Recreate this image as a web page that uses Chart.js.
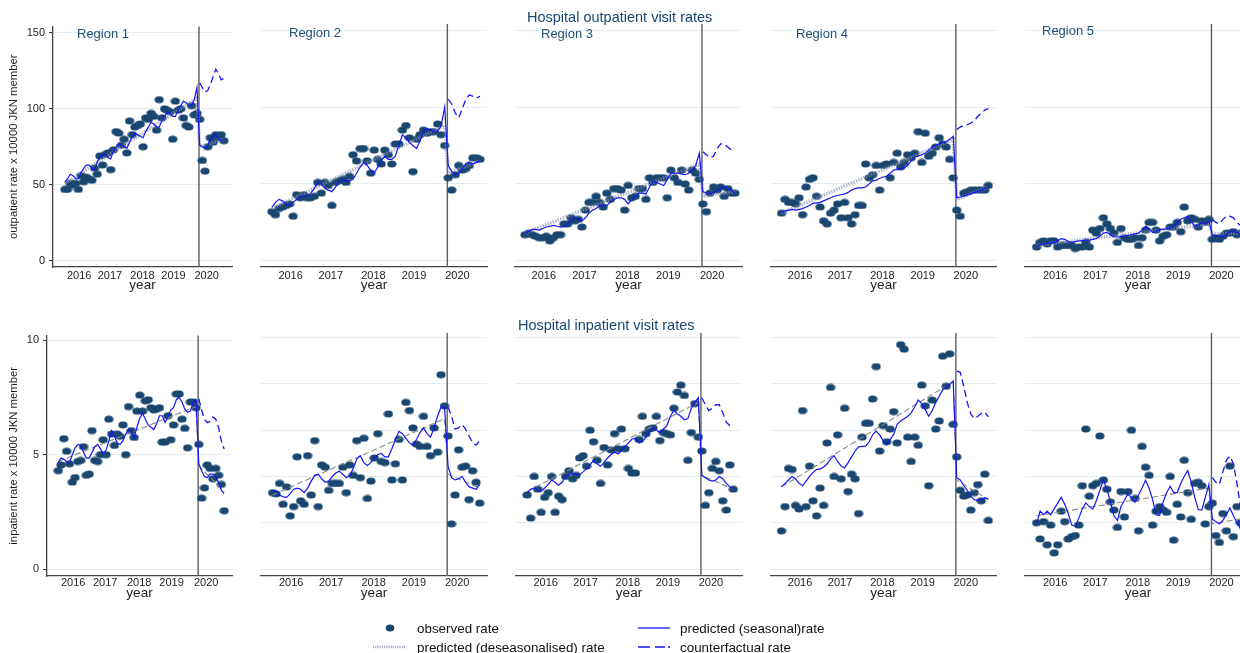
<!DOCTYPE html>
<html lang="en">
<head>
<meta charset="utf-8">
<title>Hospital outpatient and inpatient visit rates</title>
<script src="https://cdn.jsdelivr.net/npm/chart.js@4.4.1/dist/chart.umd.min.js"></script>
<style>
  html, body { margin: 0; padding: 0; background: #fff; }
  body { width: 1240px; height: 653px; position: relative; overflow: hidden; }
  canvas { position: absolute; }
  #overlay { position: absolute; left: 0; top: 0; pointer-events: none; }
</style>
</head>
<body>
<div id="charts"></div>
<svg id="overlay" width="1240" height="653" xmlns="http://www.w3.org/2000/svg">
  <g font-family="'Liberation Sans', Arial, sans-serif" dominant-baseline="central">
    <text x="527" y="17" font-size="14.5" fill="#1a476f">Hospital outpatient visit rates</text>
    <text x="518" y="325" font-size="14.5" fill="#1a476f">Hospital inpatient visit rates</text>
    <g id="regionLabels" font-size="13" fill="#1f4e79"></g>

    <!-- legend -->
    <ellipse cx="390" cy="628" rx="4.3" ry="3.5" fill="#1a476f"/>
    <text x="417" y="628" font-size="13.4" fill="#111">observed rate</text>
    <line x1="373" y1="647" x2="405" y2="647" stroke="#a3aec6" stroke-width="2.5" stroke-dasharray="1.2 1"/>
    <text x="417" y="647" font-size="13.4" fill="#111">predicted (deseasonalised) rate</text>
    <line x1="638" y1="628" x2="670" y2="628" stroke="#1515f5" stroke-width="1.3"/>
    <text x="680" y="628" font-size="13.4" fill="#111">predicted (seasonal)rate</text>
    <line x1="638" y1="647" x2="670" y2="647" stroke="#1515f5" stroke-width="1.3" stroke-dasharray="12 5 10 3 2 100"/>
    <text x="680" y="647" font-size="13.4" fill="#111">counterfactual rate</text>
  </g>
</svg>
<script>
// months are indexed 0..59 (Jan 2016 .. Dec 2020), post period starts at index 50
const years = ['2016', '2017', '2018', '2019', '2020'];
const yearTicks = [5.3, 16.7, 28.8, 40.3, 52.6];
const regions = ['Region 1', 'Region 2', 'Region 3', 'Region 4', 'Region 5'];
const breakX = 49.75;
const postStart = 50;
const deseasonX = [0, 49, 50, 59];

// ---- outpatient (top row) ----
const outObs1 = [47,47,51,50,51,47,56,52,55,54, 53,61,57,69,63,70,71,60,73,85, 84,76,80,71,92,83,88,89,90,75, 94,93,97,95,86,106,94,100,99,98, 80,105,99,100,94,89,88,102,96,97, 93,66,59,75,81,78,83,81,83,79];
const outSea1 = [52,54,57,56,54,54, 58,61,63,63,61,60, 65,68,70,70,68,67, 72,75,77,76,75,74, 78,82,84,83,82,81, 85,88,91,90,88,88, 92,95,98,97,95,95, 99,102,105,104,102,102, 106,114, 76,75,74,76,80,82,83,80,79,80];
const outDes1 = [51, 107, 75, 80];
const outCf1 = [117,114,111,112,116,121,126,123,119,120];

const outObs2 = [32,30,34,35,36,37,29,43,41,43, 41,41,42,51,44,51,49,36,51,52, 53,51,55,69,65,73,73,65,57,72, 66,63,72,69,63,76,76,85,88,80, 58,79,82,85,83,84,84,89,82,75, 54,46,56,62,59,60,62,67,67,66];
const outSea2 = [35,38,40,39,37,36,38,40,42,42, 42,44,47,51,50,47,46,45,48,51, 53,52,52,53,57,61,64,62,59,57, 61,65,68,66,66,68,75,82,80,77, 75,73,78,84,86,85,84,84,88,100, 62,58,56,57,60,63,64,63,64,65];
const outDes2 = [34, 88, 57, 65];
const outCf2 = [105,102,96,93,99,105,108,107,106,107];

const outObs3 = [17,18,17,16,15,15,16,13,15,17, 17,24,24,28,26,27,22,33,38,38, 42,38,35,44,40,47,47,46,33,49, 41,42,47,47,40,54,51,54,54,54, 41,59,54,51,59,50,46,59,57,53, 37,32,44,48,46,48,42,47,44,44];
const outSea3 = [18,19,20.5,20.5,20,21,22,22.5,23,22.5, 22,22.5,24,26,28,27,26,28,31,33, 34,36,36,36,38,40,41,41,40,37, 40,42,44,44,43.5,48,51.5,51,50,49, 53,57,57,57,56.5,56,57,59,62,70, 45,44,43.5,44.5,46,47,48,47,46,44];
const outDes3 = [18, 63, 42, 45];
const outCf3 = [71,69,67,68,73,76,76,74,72,72];

const outObs4 = [31,40,38,38,37,41,30,48,53,54, 42,35,26,24,31,33,37,28,38,28, 24,30,36,36,63,54,56,62,46,62, 63,54,64,70,61,64,69,67,70,84, 64,83,68,70,74,80,76,74,66,54, 33,29,44,45,46,46,46,46,46,49];
const outSea4 = [31.5,32.5,33,33.5,33,33.5,34,35,36,37.5, 37.5,38,39,40,41,42,42.5,43,43.5,44.5, 46,47,47.5,47.5,48,50,52,52.5,53.5,54.5, 55,57,59,59.5,60,60.5,62,65,67.5,68, 69,70,72,74,75,76,77,77.5,79,81, 41,41.5,42,43,43.5,44.5,45,46,47,48];
const outDes4 = [31, 79, 40, 48];
const outCf4 = [85.5,87,88,88.5,89.5,91,94,96,98,99];

const outObs5 = [9,12,13,11,13,13,9,10,10,10, 10,8,9,9,12,9,20,18,21,28, 24,21,18,12,21,15,14,14,15,10, 15,20,25,25,20,13,16,17,22,22, 25,19,35,26,28,27,22,26,25,27, 14,15,14,16,18,18,19,17,18,17];
const outSea5 = [9.5,10.5,11,11.5,11.5,12,13,14.5,14,12.5, 12,12.5,13,13,13.5,13.5,14,14.5,16,18, 18.5,17,15.5,15.5,15.8,16,16.5,17,17.5,18, 20,22.5,21,18.5,19,20.5,20.5,21,21,22.5, 25,27,28,29,26,22.5,23,25,24,26, 17,16.5,16,15.8,17,19,19,18.5,17,16.5];
const outDes5 = [10, 24, 17.5, 18];
const outCf5 = [27,25,24,27,29,29,28,25,23,22];

// ---- inpatient (bottom row) ----
const inpObs1 = [4.3,4.55,5.7,5.15,4.6,3.8,4.0,4.7,4.75,5.35, 4.1,4.15,6.05,4.75,4.7,5.0,5.65,5.0,6.55,5.9, 5.4,5.9,5.8,6.3,5.0,7.1,6.05,5.75,6.9,7.6, 6.9,7.35,7.4,7.05,6.95,7.0,7.05,5.55,5.55,6.7, 5.65,6.3,7.65,7.65,6.55,6.15,5.3,7.3,7.3,7.05, 5.45,3.1,3.55,4.55,4.4,3.95,4.4,4.1,3.7,2.55];
const inpSea1 = [4.65,4.85,4.8,4.7,4.65,5.0,5.3,5.45,5.4,5.1, 4.85,4.85,5.1,5.35,5.45,5.25,5.05,5.2,5.6,6.05, 5.8,5.5,5.45,5.6,5.9,6.1,5.95,5.75,6.2,6.6, 6.8,6.55,6.3,6.2,6.1,6.35,6.7,6.7,6.4,6.65, 6.95,7.05,7.4,7.5,7.3,7.0,6.85,6.9,7.3,7.4, 4.6,4.3,4.05,4.0,4.15,4.15,4.05,3.8,3.45,3.3];
const inpDes1 = [4.7, 7.1, 4.5, 3.4];
const inpCf1 = [7.45,6.95,6.55,6.4,6.45,6.65,6.55,6.2,5.6,5.25];

const inpObs2 = [3.3,3.25,3.7,2.8,3.55,2.3,2.7,4.85,2.95,2.8, 4.9,3.2,5.55,2.7,4.5,4.4,3.4,3.7,3.7,3.7, 4.4,3.3,4.5,4.05,5.55,3.95,5.65,3.05,3.8,4.8, 5.85,4.65,4.6,6.7,3.85,4.55,5.6,3.85,7.2,6.85, 6.1,5.4,5.3,6.6,5.3,4.9,6.1,5.05,8.4,7.05, 5.75,1.95,3.2,5.15,4.4,4.45,3.0,4.25,3.75,2.85];
const inpSea2 = [3.4,3.35,3.2,3.12,3.1,3.25,3.45,3.5,3.45,3.3, 3.5,3.8,4.05,4.1,3.9,3.75,3.8,4.0,4.15,4.23, 4.1,3.95,4.05,4.35,4.75,4.9,4.6,4.48,4.6,4.8, 4.95,5.0,4.85,4.85,5.2,5.6,5.95,5.85,5.65,5.45, 5.35,5.6,5.9,6.1,5.85,5.7,6.1,6.6,7.0,7.0, 4.45,3.95,3.85,3.9,4.0,3.75,3.55,3.5,3.45,3.65];
const inpDes2 = [3.2, 6.5, 4.1, 3.5];
const inpCf2 = [7.0,6.6,6.05,6.1,6.25,6.05,5.75,5.45,5.35,5.55];

const inpObs3 = [3.2,2.2,4.0,3.45,2.45,3.1,3.3,4.0,2.45,3.15, 3.0,4.0,4.25,3.9,4.05,4.8,4.9,4.45,6.0,5.5, 4.7,3.7,5.25,4.5,5.15,5.85,5.2,6.05,5.2,4.35, 4.15,4.15,5.6,6.6,5.85,6.05,6.1,6.6,5.55,5.9, 5.85,5.8,6.95,7.65,7.95,7.5,4.7,5.9,7.15,5.7, 5.1,2.75,3.3,4.35,4.65,4.25,2.95,2.55,4.5,3.45];
const inpSea3 = [3.3,3.45,3.5,3.43,3.36,3.5,3.65,3.85,3.75,3.62, 3.75,4.0,4.08,4.13,4.1,4.08,4.2,4.33,4.5,4.7, 4.55,4.44,4.6,4.8,4.95,5.05,4.98,5.1,5.3,5.45, 5.62,5.65,5.45,5.5,5.7,5.95,6.1,6.0,5.9,6.05, 6.2,6.6,6.85,6.7,6.6,6.45,6.5,6.95,7.2,7.4, 4.05,3.95,3.85,3.8,3.85,4.0,3.9,3.7,3.55,3.45];
const inpDes3 = [3.35, 7.2, 4.05, 3.45];
const inpCf3 = [7.4,7.1,6.85,6.95,7.1,7.1,6.75,6.35,6.2,6.15];

const inpObs4 = [1.65,2.7,4.35,4.3,2.75,2.6,6.85,2.7,4.45,2.95, 2.3,3.5,2.75,5.45,7.85,4.0,5.8,3.9,6.95,3.35, 4.1,3.9,2.4,5.7,6.3,6.3,7.35,8.75,5.1,6.2, 5.5,6.05,6.8,5.45,9.7,9.5,5.7,4.65,5.7,5.35, 7.95,7.05,3.6,7.3,6.05,6.4,9.2,7.9,9.3,6.25, 4.85,3.4,3.15,3.2,2.55,3.3,3.65,2.95,4.1,2.1];
const inpSea4 = [3.55,3.7,3.85,4.0,3.9,3.7,3.6,3.8,4.0,4.18, 4.3,4.33,4.4,4.55,4.75,4.9,4.65,4.45,4.37,4.6, 4.85,5.1,5.28,5.3,5.31,5.5,5.8,5.96,5.8,5.55, 5.38,5.6,5.82,6.25,6.4,6.5,6.6,6.75,7.0,7.3, 7.15,6.9,6.6,6.85,7.2,7.47,7.75,7.9,7.98,8.12, 3.95,3.85,3.6,3.4,3.15,3.0,2.97,3.0,3.07,3.03];
const inpDes4 = [3.55, 8.1, 3.85, 3.0];
const inpCf4 = [8.55,8.5,7.9,7.2,6.7,6.5,6.6,6.72,6.78,6.58];

const inpObs5 = [2.0,1.3,2.05,1.05,1.9,0.7,1.05,2.5,2.05,1.3, 1.4,1.45,1.9,3.6,6.05,3.15,3.6,3.7,5.75,3.85, 3.45,2.9,2.55,1.8,3.35,2.25,3.35,6.0,3.05,1.65, 5.3,4.4,4.05,1.9,2.5,2.7,2.55,2.45,4.0,1.25, 2.8,2.25,4.7,3.3,2.15,3.7,3.75,3.6,1.95,2.7, 2.85,1.45,1.15,2.4,1.65,4.45,1.4,2.7,2.0,1.8];
const inpSea5 = [1.96,2.5,2.35,2.5,2.35,2.6,2.85,3.1,2.8,2.4, 1.9,1.85,2.2,2.6,2.86,2.7,2.6,2.95,3.4,3.85, 3.45,2.9,2.3,2.1,2.7,2.97,3.26,3.05,2.89,3.2, 3.5,3.84,3.5,3.0,2.35,2.31,2.9,3.3,3.58,3.3, 3.3,3.7,4.0,4.26,3.75,3.1,2.57,2.55,3.1,3.65, 2.16,2.05,1.95,2.1,2.35,2.64,2.3,2.0,1.75,1.82];
const inpDes5 = [2.3, 3.5, 1.95, 2.2];
const inpCf5 = [3.95,3.75,3.65,4.2,4.7,4.88,4.55,3.7,2.7,2.3];

const observed = [[outObs1, outObs2, outObs3, outObs4, outObs5], [inpObs1, inpObs2, inpObs3, inpObs4, inpObs5]];
const seasonal = [[outSea1, outSea2, outSea3, outSea4, outSea5], [inpSea1, inpSea2, inpSea3, inpSea4, inpSea5]];
const deseason = [[outDes1, outDes2, outDes3, outDes4, outDes5], [inpDes1, inpDes2, inpDes3, inpDes4, inpDes5]];
const counterfactual = [[outCf1, outCf2, outCf3, outCf4, outCf5], [inpCf1, inpCf2, inpCf3, inpCf4, inpCf5]];

// layout of the two rows and the five panels in each
const rows = [
    { top: 16, padTop: 8, plotH: 243, xH: 26, tickPad: 2, yMin: -4, yMax: 154,
      yTicks: [0, 50, 100, 150], yTicksOther: [0, 50, 100, 150],
      yTitle: 'outpatient rate x 10000 JKN member' },
    { top: 325, padTop: 8, plotH: 243, xH: 25, tickPad: 0, yMin: -0.3, yMax: 10.2,
      yTicks: [0, 5, 10], yTicksOther: [0, 2, 4, 6, 8, 10],
      yTitle: 'inpatient rate x 10000 JKN member' }
];
const cols = [
    [
        { left: 0, yW: 53, plotW: 180, xMin: -4.4, xMax: 62 },
        { left: 261, yW: 0, plotW: 227, xMin: -3.1, xMax: 61 },
        { left: 515, yW: 0, plotW: 228, xMin: -2.8, xMax: 61 },
        { left: 771, yW: 0, plotW: 226, xMin: -3.0, xMax: 61.2 },
        { left: 1025, yW: 0, plotW: 227, xMin: -3.3, xMax: 61 }
    ],
    [
        { left: 0, yW: 47, plotW: 186, xMin: -4.0, xMax: 61.8 },
        { left: 261, yW: 0, plotW: 227, xMin: -3.3, xMax: 61.1 },
        { left: 516, yW: 0, plotW: 227, xMin: -3.2, xMax: 61.5 },
        { left: 771, yW: 0, plotW: 226, xMin: -3.0, xMax: 61.2 },
        { left: 1025, yW: 0, plotW: 227, xMin: -3.3, xMax: 61 }
    ]
];
const regionLabelPos = [[77, 33], [289, 32], [541, 33], [796, 33], [1042, 30]];

Chart.defaults.font.family = "'Liberation Sans', Arial, sans-serif";

// filled ellipse used as the scatter marker
const dot = document.createElement('canvas');
dot.width = 10;
dot.height = 8;
const dctx = dot.getContext('2d');
dctx.fillStyle = '#1a476f';
dctx.beginPath();
dctx.ellipse(5, 4, 4.6, 3.5, 0, 0, Math.PI * 2);
dctx.fill();

// vertical line at the start of the interruption
const breakLine = {
    id: 'breakLine',
    beforeDatasetsDraw(chart) {
        const ctx = chart.ctx;
        const x = chart.scales.x.getPixelForValue(breakX);
        ctx.save();
        ctx.strokeStyle = '#5e5e5e';
        ctx.lineWidth = 1.4;
        ctx.beginPath();
        ctx.moveTo(x, chart.chartArea.top);
        ctx.lineTo(x, chart.chartArea.bottom);
        ctx.stroke();
        ctx.restore();
    }
};

function panelConfig(row, col) {
    const r = rows[row];
    const c = cols[row][col];
    const first = col === 0;
    const obs = observed[row][col];
    const sea = seasonal[row][col];
    const des = deseason[row][col];
    const cf = counterfactual[row][col];
    const yTickVals = first ? r.yTicks : r.yTicksOther;

    return {
        type: 'line',
        data: {
            datasets: [
                {
                    label: 'counterfactual rate',
                    data: cf.map((v, k) => ({ x: postStart + k, y: v })),
                    borderColor: '#1515f5',
                    borderWidth: 1.3,
                    borderDash: [7, 4],
                    pointRadius: 0,
                    order: 0
                },
                {
                    label: 'predicted (seasonal)rate',
                    data: sea.map((v, i) => ({ x: i, y: v })),
                    borderColor: '#1515f5',
                    borderWidth: 1.2,
                    pointRadius: 0,
                    order: 1
                },
                {
                    label: 'predicted (deseasonalised) rate',
                    data: des.map((v, k) => ({ x: deseasonX[k], y: v })),
                    borderColor: row === 0 ? 'rgba(135,145,178,0.65)' : '#8a8a8a',
                    borderWidth: row === 0 ? 3.5 : 1.1,
                    borderDash: row === 0 ? [1.5, 1.2] : [6, 3],
                    pointRadius: 0,
                    order: 2
                },
                {
                    label: 'observed rate',
                    data: obs.map((v, i) => ({ x: i, y: v })),
                    showLine: false,
                    pointStyle: dot,
                    pointRadius: 4,
                    order: 3
                }
            ]
        },
        options: {
            responsive: false,
            animation: false,
            events: [],
            layout: { padding: { top: r.padTop, right: 4, left: 0, bottom: 0 } },
            plugins: {
                legend: { display: false },
                tooltip: { enabled: false }
            },
            scales: {
                x: {
                    type: 'linear',
                    min: c.xMin,
                    max: c.xMax,
                    afterBuildTicks: s => { s.ticks = yearTicks.map(v => ({ value: v })); },
                    afterFit: s => { s.height = r.xH; },
                    grid: { display: true, drawOnChartArea: false, drawTicks: false },
                    border: { display: true, color: '#444', width: 1.3 },
                    ticks: {
                        padding: r.tickPad,
                        color: '#1e1e1e',
                        font: { size: 11 },
                        maxRotation: 0,
                        autoSkip: false,
                        callback: (v, i) => years[i]
                    },
                    title: { display: true, text: 'year', color: '#1e1e1e', font: { size: 13.5 }, padding: 0 }
                },
                y: {
                    type: 'linear',
                    min: r.yMin,
                    max: r.yMax,
                    afterBuildTicks: s => { s.ticks = yTickVals.map(v => ({ value: v })); },
                    afterFit: s => { s.width = c.yW; },
                    grid: {
                        color: '#e4edf0',
                        lineWidth: 1,
                        drawTicks: first,
                        tickLength: 4,
                        tickColor: '#333',
                        tickWidth: 1
                    },
                    border: { display: first, color: '#444', width: 1.3 },
                    ticks: { display: first, padding: 4, color: '#1e1e1e', font: { size: 11 } },
                    title: {
                        display: first,
                        text: r.yTitle,
                        color: '#1e1e1e',
                        font: { size: 11.3 },
                        padding: { top: 7.2, bottom: 0 }
                    }
                }
            }
        },
        plugins: [breakLine]
    };
}

function drawPanel(row, col) {
    const r = rows[row];
    const c = cols[row][col];
    let w = c.yW + c.plotW + 4;
    const h = r.padTop + r.plotH + r.xH;

    const canvas = document.createElement('canvas');
    canvas.width = w;
    canvas.height = h;
    canvas.style.left = c.left + 'px';
    canvas.style.top = r.top + 'px';
    canvas.style.width = w + 'px';
    canvas.style.height = h + 'px';
    document.getElementById('charts').appendChild(canvas);

    let chart = new Chart(canvas, panelConfig(row, col));

    // the layout can keep a few pixels on the left; move the canvas so the plot area sits where it should
    const dx = Math.round(chart.chartArea.left - c.yW);
    if (dx !== 0) {
        chart.destroy();
        w += dx;
        canvas.width = w;
        canvas.height = h;
        canvas.style.width = w + 'px';
        canvas.style.height = h + 'px';
        canvas.style.left = (c.left - dx) + 'px';
        chart = new Chart(canvas, panelConfig(row, col));
    }
}

for (let row = 0; row < 2; row++) {
    for (let col = 0; col < 5; col++) {
        drawPanel(row, col);
    }
}

// region labels inside the top row panels
const labelGroup = document.getElementById('regionLabels');
regions.forEach((name, i) => {
    const t = document.createElementNS('http://www.w3.org/2000/svg', 'text');
    t.setAttribute('x', regionLabelPos[i][0]);
    t.setAttribute('y', regionLabelPos[i][1]);
    t.textContent = name;
    labelGroup.appendChild(t);
});
</script>
</body>
</html>
